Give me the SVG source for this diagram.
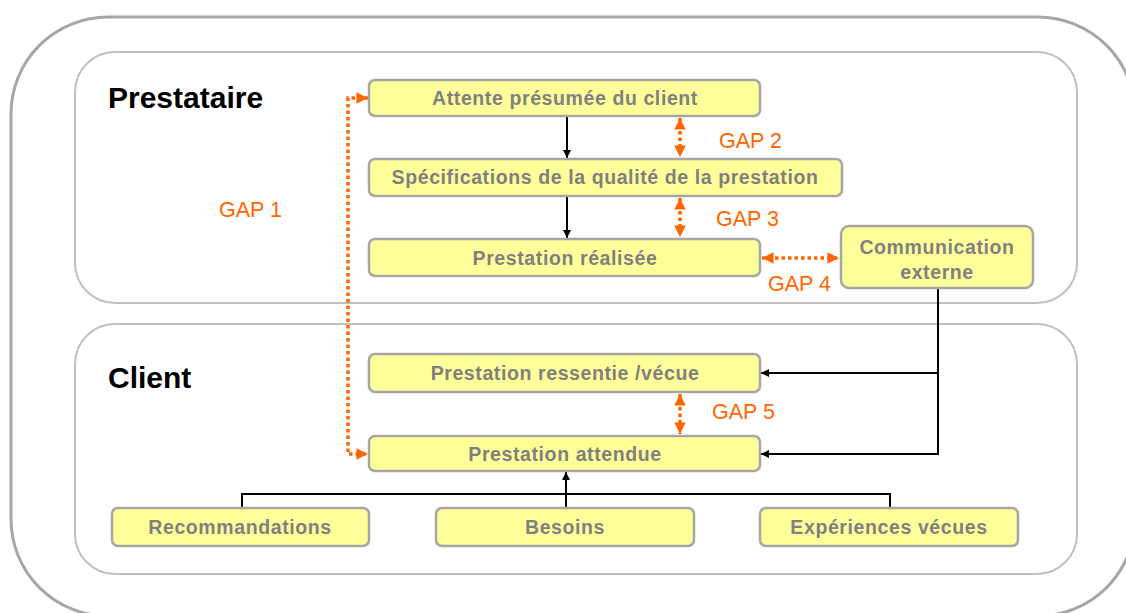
<svg xmlns="http://www.w3.org/2000/svg" width="1126" height="613" viewBox="0 0 1126 613">
<style>
.frame{fill:none;stroke:#a6a6a6;stroke-width:3}
.panel{fill:none;stroke:#c0c0c0;stroke-width:2}
.hdr{font-family:"Liberation Sans",Arial,sans-serif;font-weight:bold;font-size:30px;fill:#000}
.box{fill:#ffff99;stroke:#a6a6a6;stroke-width:2.5}
.lbl{font-family:"Liberation Sans",Arial,sans-serif;font-weight:bold;font-size:19.5px;fill:#808080;text-anchor:middle;letter-spacing:0.6px}
.gap{font-family:"Liberation Sans",Arial,sans-serif;font-size:21.5px;fill:#ff6600}
.blk{fill:none;stroke:#000;stroke-width:2}
.dot{fill:none;stroke:#ff6600;stroke-width:3.5;stroke-dasharray:3.5 3}
</style>
<defs>
<marker id="ab" viewBox="0 0 10 10" refX="10" refY="5" markerWidth="4" markerHeight="4" orient="auto" markerUnits="strokeWidth"><path d="M0,0 L10,5 L0,10 z" fill="#000"/></marker>
<marker id="ao" viewBox="0 0 10 10" refX="10" refY="5" markerWidth="3.3" markerHeight="3.3" orient="auto-start-reverse" markerUnits="strokeWidth"><path d="M0,0 L10,5 L0,10 z" fill="#ff6600"/></marker>
</defs>
<rect class="frame" x="11" y="17" width="1124" height="599" rx="97"/>
<rect class="panel" x="75" y="52" width="1002" height="251" rx="40"/>
<rect class="panel" x="75" y="324" width="1002" height="250" rx="40"/>
<text class="hdr" x="108" y="108">Prestataire</text>
<text class="hdr" x="108" y="388">Client</text>

<g id="connectors">
<line class="blk" x1="567" y1="116" x2="567" y2="158" marker-end="url(#ab)"/>
<line class="blk" x1="567" y1="196" x2="567" y2="238" marker-end="url(#ab)"/>
<polyline class="blk" points="938,288 938,373 761,373" marker-end="url(#ab)"/>
<polyline class="blk" points="938,373 938,454 761,454" marker-end="url(#ab)"/>
<polyline class="blk" points="242,508 242,494 890,494 890,508"/>
<line class="blk" x1="566" y1="508" x2="566" y2="472" marker-end="url(#ab)"/>
<line class="dot" x1="680" y1="118" x2="680" y2="157" marker-start="url(#ao)" marker-end="url(#ao)"/>
<line class="dot" x1="680" y1="198" x2="680" y2="237" marker-start="url(#ao)" marker-end="url(#ao)"/>
<line class="dot" x1="680" y1="394" x2="680" y2="434" marker-start="url(#ao)" marker-end="url(#ao)"/>
<line class="dot" x1="762" y1="258" x2="839" y2="258" marker-start="url(#ao)" marker-end="url(#ao)"/>
<polyline class="dot" points="368,98 348,98 348,454 368,454" marker-start="url(#ao)" marker-end="url(#ao)"/>
<text class="gap" x="219" y="217">GAP 1</text>
<text class="gap" x="719" y="148">GAP 2</text>
<text class="gap" x="716" y="226">GAP 3</text>
<text class="gap" x="768" y="291">GAP 4</text>
<text class="gap" x="712" y="419">GAP 5</text>
</g>

<g id="attente"><rect class="box" x="369" y="80" width="391" height="36" rx="6"/><text class="lbl" x="565" y="105">Attente présumée du client</text></g>
<g id="specifications"><rect class="box" x="369" y="159" width="473" height="37" rx="6"/><text class="lbl" x="605" y="184">Spécifications de la qualité de la prestation</text></g>
<g id="realisee"><rect class="box" x="369" y="239" width="391" height="37" rx="6"/><text class="lbl" x="565" y="265">Prestation réalisée</text></g>
<g id="communication"><rect class="box" x="841" y="226" width="192" height="62" rx="8"/><text class="lbl" x="937" y="254">Communication</text><text class="lbl" x="937" y="279">externe</text></g>
<g id="ressentie"><rect class="box" x="369" y="354" width="391" height="38" rx="6"/><text class="lbl" x="565" y="380">Prestation ressentie /vécue</text></g>
<g id="attendue"><rect class="box" x="369" y="436" width="391" height="35" rx="6"/><text class="lbl" x="565" y="461">Prestation attendue</text></g>
<g id="recommandations"><rect class="box" x="112" y="508" width="257" height="38" rx="6"/><text class="lbl" x="240" y="534">Recommandations</text></g>
<g id="besoins"><rect class="box" x="436" y="508" width="258" height="38" rx="6"/><text class="lbl" x="565" y="534">Besoins</text></g>
<g id="experiences"><rect class="box" x="760" y="508" width="258" height="38" rx="6"/><text class="lbl" x="889" y="534">Expériences vécues</text></g>
</svg>
